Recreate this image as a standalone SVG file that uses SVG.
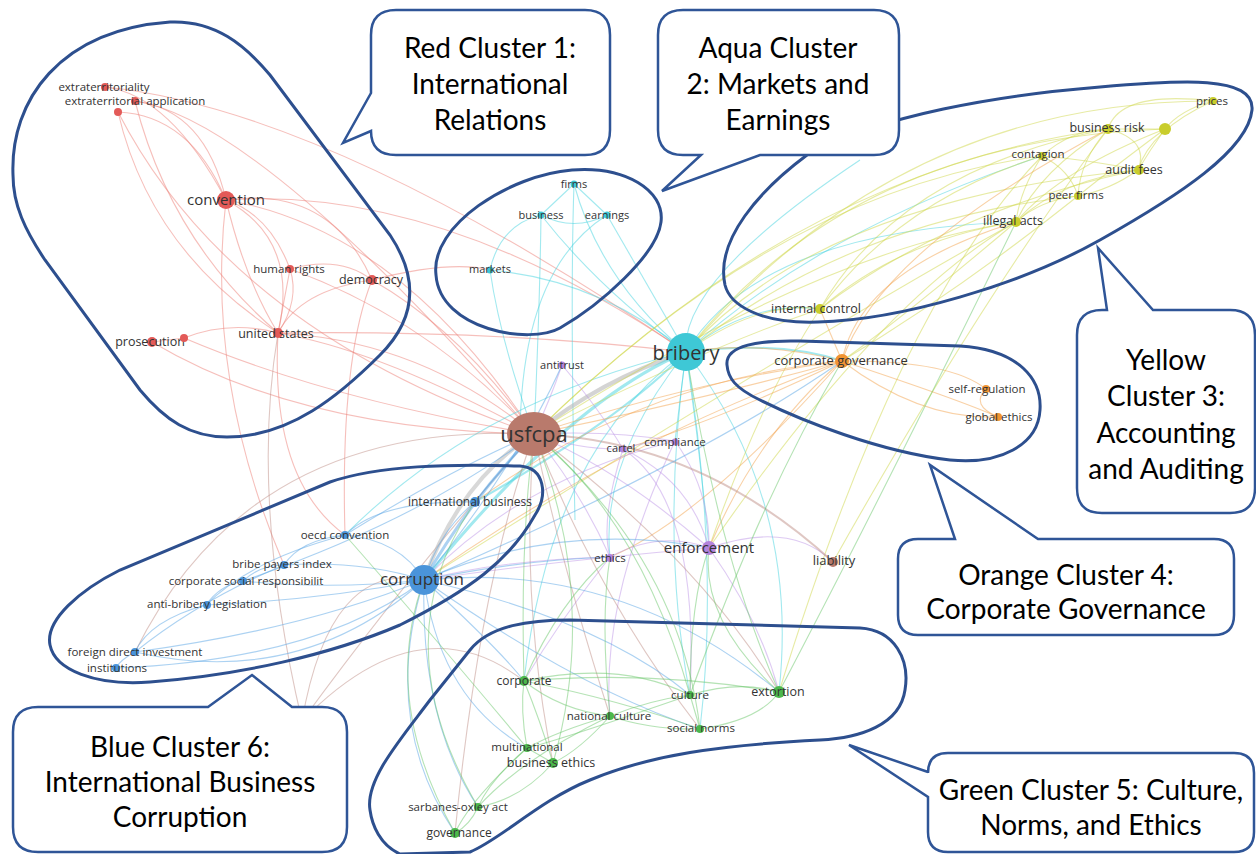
<svg xmlns="http://www.w3.org/2000/svg" width="1256" height="854" viewBox="0 0 1256 854">
<style>
.bg{fill:#ffffff}
.e{fill:none;stroke-width:1.1;stroke-opacity:.5}
.r{stroke:#ee8078}.a{stroke:#45d3df}.y{stroke:#cfd84a}.o{stroke:#f3a44e}.p{stroke:#bd95e8}.g{stroke:#6cc86c}.b{stroke:#5aa5e6}.n{stroke:#c09088}.gr{stroke:#b8b8b8}
.nr{fill:#e35a58}.na{fill:#3ec8d6}.ny{fill:#c9cd2c}.no{fill:#f19432}.np{fill:#b483dc}.nn{fill:#b97a6c}.nb{fill:#4a94da}.ng{fill:#4cb84c}
.lb{font-family:"Open Sans","DejaVu Sans",sans-serif;fill:#333;text-anchor:middle;dominant-baseline:central}
.blob{fill:none;stroke:#2d4f8e;stroke-width:3}
.call{fill:#ffffff;stroke:#2f5597;stroke-width:2.5;stroke-linejoin:miter}
.ct{font-family:Lato,"Open Sans",sans-serif;font-size:28px;fill:#000;text-anchor:middle}
</style>
<rect class="bg" x="0" y="0" width="1256" height="854"/>
<g id="connectors">
<path class="e r" d="M118,112 Q190,115 226,200"/>
<path class="e r" d="M135,101 Q205,110 226,200"/>
<path class="e r" d="M105,87 Q170,95 226,200"/>
<path class="e r" d="M118,112 Q150,250 278,333"/>
<path class="e r" d="M135,101 Q170,240 278,333"/>
<path class="e r" d="M118,112 Q230,330 534,434"/>
<path class="e r" d="M135,101 Q260,120 534,434"/>
<path class="e r" d="M105,87 Q330,110 686,352"/>
<path class="e r" d="M226,200 Q330,185 372,280"/>
<path class="e r" d="M226,200 Q270,215 290,269"/>
<path class="e r" d="M226,200 Q245,280 278,333"/>
<path class="e r" d="M226,200 Q300,240 278,333"/>
<path class="e r" d="M226,200 Q440,185 686,352"/>
<path class="e r" d="M226,200 Q400,230 534,434"/>
<path class="e r" d="M226,200 Q205,380 284,565"/>
<path class="e r" d="M290,269 Q340,255 372,280"/>
<path class="e r" d="M290,269 L278,333"/>
<path class="e r" d="M290,269 Q300,300 278,333"/>
<path class="e r" d="M290,269 Q430,320 534,434"/>
<path class="e r" d="M372,280 Q300,290 278,333"/>
<path class="e r" d="M372,280 Q460,330 534,434"/>
<path class="e r" d="M372,280 Q340,360 345,535"/>
<path class="e r" d="M372,280 Q450,260 490,270"/>
<path class="e r" d="M278,333 Q420,340 534,434"/>
<path class="e r" d="M278,333 Q380,350 534,434"/>
<path class="e r" d="M278,333 Q270,480 345,535"/>
<path class="e r" d="M278,333 Q500,330 686,352"/>
<path class="e r" d="M184,338 Q230,320 278,333"/>
<path class="e r" d="M152,342 L184,338"/>
<path class="e r" d="M152,342 Q300,430 534,434"/>
<path class="e r" d="M184,338 Q330,400 534,434"/>
<path class="e n" d="M302,721 Q250,500 278,333"/>
<path class="e a" d="M574,184 L541,215"/>
<path class="e a" d="M574,184 L607,215"/>
<path class="e a" d="M541,215 Q574,232 607,215"/>
<path class="e a" d="M541,215 Q500,225 490,270"/>
<path class="e a" d="M574,184 Q600,280 686,352"/>
<path class="e a" d="M574,184 Q570,300 575,520"/>
<path class="e a" d="M541,215 Q600,290 686,352"/>
<path class="e a" d="M607,215 Q650,290 686,352"/>
<path class="e a" d="M607,215 Q520,270 520,440"/>
<path class="e a" d="M541,215 Q540,300 534,434"/>
<path class="e a" d="M490,270 Q600,280 686,352"/>
<path class="e a" d="M490,270 Q500,340 534,434"/>
<path class="e gr" d="M686,352 Q600,380 534,434" style="stroke-width:4;stroke-opacity:.6"/>
<path class="e a" d="M686,352 Q570,400 424,580" style="stroke-width:3"/>
<path class="e a" d="M686,352 Q620,420 475,502" style="stroke-width:2"/>
<path class="e a" d="M686,352 Q750,300 820,309"/>
<path class="e a" d="M686,352 Q820,230 1042,156"/>
<path class="e a" d="M686,352 Q760,230 1016,222"/>
<path class="e a" d="M686,352 Q800,500 779,692"/>
<path class="e a" d="M686,352 Q660,540 690,695"/>
<path class="e a" d="M686,352 Q720,560 700,729"/>
<path class="e a" d="M686,352 Q700,450 709,548"/>
<path class="e a" d="M686,352 Q680,400 675,441"/>
<path class="e a" d="M686,352 Q780,340 842,361" style="stroke-width:2"/>
<path class="e a" d="M686,352 Q550,450 524,681"/>
<path class="e a" d="M686,352 Q480,400 345,535"/>
<path class="e a" d="M686,352 Q600,460 610,557"/>
<path class="e a" d="M686,352 Q680,280 860,160"/>
<path class="e y" d="M1213,101 Q1180,110 1165,129"/>
<path class="e y" d="M1213,101 Q1120,90 1108,129"/>
<path class="e y" d="M1213,101 Q1150,130 1138,170"/>
<path class="e y" d="M1108,129 L1165,129"/>
<path class="e y" d="M1108,129 Q1070,130 1042,156"/>
<path class="e y" d="M1108,129 Q1150,140 1138,170"/>
<path class="e y" d="M1108,129 Q1080,160 1078,196"/>
<path class="e y" d="M1108,129 Q1040,170 1016,222"/>
<path class="e y" d="M1165,129 Q1150,150 1138,170"/>
<path class="e y" d="M1165,129 Q1110,170 1078,196"/>
<path class="e y" d="M1165,129 Q1060,170 1016,222"/>
<path class="e y" d="M1042,156 Q1090,160 1138,170"/>
<path class="e y" d="M1042,156 Q1070,170 1078,196"/>
<path class="e y" d="M1042,156 Q1020,190 1016,222"/>
<path class="e y" d="M1138,170 Q1110,190 1078,196"/>
<path class="e y" d="M1138,170 Q1060,180 1016,222"/>
<path class="e y" d="M1078,196 Q1040,200 1016,222"/>
<path class="e y" d="M1016,222 Q900,240 820,309"/>
<path class="e y" d="M1042,156 Q900,200 820,309"/>
<path class="e y" d="M1108,129 Q900,170 820,309"/>
<path class="e y" d="M1138,170 Q950,210 820,309"/>
<path class="e y" d="M1165,129 Q850,140 686,352"/>
<path class="e y" d="M1108,129 Q800,170 534,434"/>
<path class="e y" d="M1042,156 Q780,190 534,434"/>
<path class="e y" d="M1138,170 Q820,200 686,352"/>
<path class="e y" d="M1016,222 Q820,250 534,434"/>
<path class="e y" d="M1078,196 Q850,220 686,352"/>
<path class="e y" d="M1213,101 Q900,100 686,352"/>
<path class="e y" d="M1016,222 Q900,320 842,361"/>
<path class="e y" d="M1078,196 Q960,290 842,361"/>
<path class="e y" d="M1016,222 Q880,300 709,548"/>
<path class="e y" d="M1042,156 Q900,300 779,692"/>
<path class="e y" d="M1108,129 Q980,300 833,562"/>
<path class="e y" d="M820,309 Q700,350 534,434"/>
<path class="e y" d="M820,309 Q760,400 709,548"/>
<path class="e y" d="M820,309 Q760,300 686,352"/>
<path class="e y" d="M1016,222 Q820,330 424,580"/>
<path class="e o" d="M842,361 Q950,360 986,389"/>
<path class="e o" d="M842,361 Q920,420 998,417"/>
<path class="e o" d="M842,361 Q960,400 998,417"/>
<path class="e o" d="M986,389 Q970,405 998,417"/>
<path class="e o" d="M842,361 Q700,380 534,434"/>
<path class="e o" d="M842,361 Q700,400 534,434"/>
<path class="e o" d="M842,361 L820,309"/>
<path class="e o" d="M842,361 Q860,270 1016,222"/>
<path class="e o" d="M842,361 Q880,250 1108,129"/>
<path class="e o" d="M842,361 Q620,440 424,580"/>
<path class="e o" d="M842,361 Q760,430 709,548"/>
<path class="e o" d="M842,361 Q720,420 623,449"/>
<path class="e o" d="M842,361 Q760,340 686,352"/>
<path class="e o" d="M842,361 Q700,520 610,557"/>
<path class="e o" d="M842,361 Q640,380 475,502"/>
<path class="e p" d="M562,365 Q550,400 534,434"/>
<path class="e p" d="M562,365 Q600,410 623,449"/>
<path class="e p" d="M623,449 Q650,440 675,441"/>
<path class="e p" d="M534,434 Q580,450 623,449"/>
<path class="e p" d="M534,434 Q610,430 675,441"/>
<path class="e p" d="M675,441 Q710,490 709,548"/>
<path class="e p" d="M623,449 Q690,480 709,548"/>
<path class="e p" d="M610,557 Q660,530 709,548"/>
<path class="e p" d="M610,557 Q580,490 534,434"/>
<path class="e p" d="M709,548 Q620,470 534,434"/>
<path class="e p" d="M610,557 Q560,620 524,681"/>
<path class="e p" d="M709,548 Q760,620 779,692"/>
<path class="e p" d="M675,441 Q520,480 424,580"/>
<path class="e p" d="M709,548 Q560,560 424,580"/>
<path class="e p" d="M623,449 Q600,520 610,557"/>
<path class="e p" d="M610,557 Q500,560 424,580"/>
<path class="e p" d="M709,548 Q790,520 833,562"/>
<path class="e p" d="M675,441 Q600,600 610,716"/>
<path class="e p" d="M623,449 Q700,500 690,695"/>
<path class="e n" d="M534,434 Q700,440 833,562" style="stroke-width:2"/>
<path class="e n" d="M534,434 Q420,560 302,721"/>
<path class="e n" d="M302,721 Q330,560 424,580"/>
<path class="e n" d="M534,434 Q560,560 610,716"/>
<path class="e n" d="M534,434 Q600,600 700,729"/>
<path class="e n" d="M534,434 Q520,600 553,763"/>
<path class="e n" d="M534,434 Q700,560 779,692"/>
<path class="e n" d="M534,434 Q480,580 455,833"/>
<path class="e n" d="M302,721 Q420,600 524,681"/>
<path class="e n" d="M534,434 Q250,420 135,652"/>
<path class="e gr" d="M534,434 Q460,480 424,580" style="stroke-width:4;stroke-opacity:.55"/>
<path class="e b" d="M534,434 Q470,500 424,580" style="stroke-width:3"/>
<path class="e b" d="M475,502 Q440,530 424,580"/>
<path class="e b" d="M475,502 Q500,470 534,434"/>
<path class="e b" d="M345,535 Q400,540 424,580"/>
<path class="e b" d="M284,565 Q360,560 424,580"/>
<path class="e b" d="M243,581 Q330,590 424,580"/>
<path class="e b" d="M206,605 Q320,600 424,580"/>
<path class="e b" d="M135,652 Q300,630 424,580"/>
<path class="e b" d="M116,668 Q320,660 424,580"/>
<path class="e b" d="M345,535 Q300,540 284,565"/>
<path class="e b" d="M284,565 Q260,565 243,581"/>
<path class="e b" d="M243,581 Q220,585 206,605"/>
<path class="e b" d="M206,605 Q150,620 135,652"/>
<path class="e b" d="M135,652 Q120,660 116,668"/>
<path class="e b" d="M345,535 Q250,560 206,605"/>
<path class="e b" d="M345,535 Q380,500 475,502"/>
<path class="e b" d="M284,565 Q200,600 135,652"/>
<path class="e b" d="M345,535 Q450,470 534,434"/>
<path class="e b" d="M243,581 Q420,520 534,434"/>
<path class="e b" d="M424,580 Q560,520 709,548"/>
<path class="e b" d="M424,580 Q520,560 610,557"/>
<path class="e b" d="M424,580 Q600,620 690,695"/>
<path class="e b" d="M424,580 Q500,650 524,681"/>
<path class="e b" d="M424,580 Q380,720 455,833"/>
<path class="e b" d="M424,580 Q420,720 478,807"/>
<path class="e b" d="M424,580 Q440,700 527,748"/>
<path class="e b" d="M424,580 Q580,690 700,729"/>
<path class="e b" d="M424,580 Q620,560 779,692"/>
<path class="e b" d="M424,580 Q700,460 842,361"/>
<path class="e b" d="M135,652 Q300,690 424,580"/>
<path class="e b" d="M424,580 Q520,460 562,365"/>
<path class="e g" d="M524,681 Q620,660 690,695"/>
<path class="e g" d="M524,681 Q560,710 610,716"/>
<path class="e g" d="M524,681 Q520,710 527,748"/>
<path class="e g" d="M524,681 Q540,720 553,763"/>
<path class="e g" d="M524,681 Q620,700 700,729"/>
<path class="e g" d="M524,681 Q650,670 779,692"/>
<path class="e g" d="M610,716 Q650,700 690,695"/>
<path class="e g" d="M610,716 Q650,730 700,729"/>
<path class="e g" d="M690,695 Q740,680 779,692"/>
<path class="e g" d="M690,695 L700,729"/>
<path class="e g" d="M700,729 Q760,720 779,692"/>
<path class="e g" d="M527,748 L553,763"/>
<path class="e g" d="M527,748 Q490,780 478,807"/>
<path class="e g" d="M553,763 Q520,800 478,807"/>
<path class="e g" d="M478,807 Q470,825 455,833"/>
<path class="e g" d="M527,748 Q470,800 455,833"/>
<path class="e g" d="M610,716 Q560,730 527,748"/>
<path class="e g" d="M610,716 Q580,750 553,763"/>
<path class="e g" d="M610,716 Q520,760 478,807"/>
<path class="e g" d="M690,695 Q560,740 527,748"/>
<path class="e g" d="M779,692 Q700,620 709,548"/>
<path class="e g" d="M779,692 Q720,560 686,352"/>
<path class="e g" d="M690,695 Q640,520 534,434"/>
<path class="e g" d="M700,729 Q680,560 534,434"/>
<path class="e g" d="M524,681 Q520,540 534,434"/>
<path class="e g" d="M690,695 Q690,600 709,548"/>
<path class="e g" d="M610,716 Q600,620 610,557"/>
<path class="e g" d="M524,681 Q560,600 610,557"/>
<path class="e g" d="M553,763 Q600,600 534,434"/>
<path class="e g" d="M455,833 Q380,700 424,580"/>
<path class="e g" d="M779,692 Q880,500 1016,222"/>
<path class="e g" d="M690,695 Q760,500 842,361"/>
<path class="e g" d="M527,748 Q420,620 345,535"/>
<path class="e g" d="M478,807 Q380,640 475,502"/>
</g>
<g id="cluster-outlines">
<path id="outline-red" class="blob" d="M13,175 C10,100 60,30 170,22 C215,20 245,45 270,75 L390,235 C420,280 415,320 380,355 C340,395 290,437 227,437 C190,437 165,420 140,390 L45,260 C25,230 13,205 13,175 Z"/>
<path id="outline-aqua" class="blob" d="M436,275 C430,225 510,175 572,170 C625,166 665,190 661,222 C657,255 600,305 560,328 C530,345 440,330 436,275 Z"/>
<path id="outline-yellow" class="blob" d="M725,285 C715,240 760,190 807,155 C880,115 1000,95 1100,87 C1180,80 1255,75 1252,110 C1248,150 1180,195 1100,240 C1020,285 900,320 818,322 C760,324 730,305 725,285 Z"/>
<path id="outline-orange" class="blob" d="M727,365 C725,345 760,340 800,341 L960,346 C1020,350 1042,380 1040,410 C1038,445 1000,465 950,460 C880,452 800,420 760,400 C735,388 728,378 727,365 Z"/>
<path id="outline-blue" class="blob" d="M50,645 C45,620 80,590 120,570 L330,482 C380,465 450,464 520,466 C545,468 548,495 535,515 C510,560 470,590 400,625 C330,655 240,675 150,682 C95,686 55,670 50,645 Z"/>
<path id="outline-green" class="blob" d="M370,810 C365,780 400,740 430,700 L470,650 C490,625 530,620 570,620 L860,628 C895,630 910,660 905,690 C900,725 860,738 820,740 C720,745 650,755 590,780 C540,800 500,840 470,852 L400,854 C380,845 372,825 370,810 Z"/>
</g>
<g id="nodes">
<g id="n-extraterritoriality"><circle class="nr" cx="105" cy="87" r="4"/><text class="lb" x="104" y="86" font-size="11.5">extraterritoriality</text></g>
<g id="n-extraterritorial-application"><circle class="nr" cx="135" cy="101" r="4"/><text class="lb" x="135" y="100" font-size="11.5">extraterritorial application</text></g>
<g id="n-red-dot"><circle class="nr" cx="118" cy="112" r="4"/></g>
<g id="n-convention"><circle class="nr" cx="226" cy="200" r="9"/><text class="lb" x="226" y="199" font-size="15">convention</text></g>
<g id="n-human-rights"><circle class="nr" cx="290" cy="269" r="4"/><text class="lb" x="289" y="268" font-size="11.5">human rights</text></g>
<g id="n-democracy"><circle class="nr" cx="372" cy="280" r="5"/><text class="lb" x="371" y="279" font-size="12.5">democracy</text></g>
<g id="n-united-states"><circle class="nr" cx="278" cy="333" r="5"/><text class="lb" x="276" y="333" font-size="12.5">united states</text></g>
<g id="n-prosecution"><circle class="nr" cx="152" cy="342" r="5"/><text class="lb" x="150" y="341" font-size="12.5">prosecution</text></g>
<g id="n-red-dot2"><circle class="nr" cx="184" cy="338" r="4"/></g>
<g id="n-firms"><circle class="na" cx="574" cy="184" r="3.5"/><text class="lb" x="574" y="183" font-size="11">firms</text></g>
<g id="n-business"><circle class="na" cx="541" cy="215" r="3.5"/><text class="lb" x="541" y="214" font-size="11">business</text></g>
<g id="n-earnings"><circle class="na" cx="607" cy="215" r="3.5"/><text class="lb" x="607" y="214" font-size="11">earnings</text></g>
<g id="n-markets"><circle class="na" cx="490" cy="270" r="3.5"/><text class="lb" x="490" y="268" font-size="11">markets</text></g>
<g id="n-bribery"><circle class="na" cx="686" cy="352" r="19"/><text class="lb" x="686" y="352" font-size="20">bribery</text></g>
<g id="n-prices"><circle class="ny" cx="1213" cy="101" r="4"/><text class="lb" x="1212" y="100" font-size="11.5">prices</text></g>
<g id="n-business-risk"><circle class="ny" cx="1108" cy="129" r="5"/><text class="lb" x="1107" y="127" font-size="12.5">business risk</text></g>
<g id="n-yellow-dot"><circle class="ny" cx="1165" cy="129" r="6"/></g>
<g id="n-contagion"><circle class="ny" cx="1042" cy="156" r="4"/><text class="lb" x="1038" y="153" font-size="11.5">contagion</text></g>
<g id="n-audit-fees"><circle class="ny" cx="1139" cy="170" r="5"/><text class="lb" x="1134" y="169" font-size="12.5">audit fees</text></g>
<g id="n-peer-firms"><circle class="ny" cx="1078" cy="196" r="4"/><text class="lb" x="1076" y="194" font-size="11.5">peer firms</text></g>
<g id="n-illegal-acts"><circle class="ny" cx="1016" cy="222" r="5"/><text class="lb" x="1013" y="220" font-size="12.5">illegal acts</text></g>
<g id="n-internal-control"><circle class="ny" cx="820" cy="309" r="5"/><text class="lb" x="816" y="308" font-size="12.5">internal control</text></g>
<g id="n-corporate-governance"><circle class="no" cx="842" cy="361" r="7"/><text class="lb" x="841" y="360" font-size="13">corporate governance</text></g>
<g id="n-self-regulation"><circle class="no" cx="986" cy="389" r="4"/><text class="lb" x="987" y="388" font-size="11.5">self-regulation</text></g>
<g id="n-global-ethics"><circle class="no" cx="998" cy="417" r="4"/><text class="lb" x="999" y="416" font-size="11.5">global ethics</text></g>
<g id="n-antitrust"><circle class="np" cx="562" cy="365" r="3.5"/><text class="lb" x="562" y="364" font-size="11">antitrust</text></g>
<g id="n-cartel"><circle class="np" cx="623" cy="449" r="3.5"/><text class="lb" x="621" y="447" font-size="11">cartel</text></g>
<g id="n-compliance"><circle class="np" cx="675" cy="442" r="3.5"/><text class="lb" x="675" y="441" font-size="11.5">compliance</text></g>
<g id="n-ethics"><circle class="np" cx="610" cy="558" r="4"/><text class="lb" x="610" y="557" font-size="11.5">ethics</text></g>
<g id="n-enforcement"><circle class="np" cx="709" cy="548" r="7"/><text class="lb" x="709" y="547" font-size="15">enforcement</text></g>
<g id="n-usfcpa"><ellipse class="nn" cx="534" cy="434" rx="27" ry="22"/><text class="lb" x="534" y="433" font-size="22">usfcpa</text></g>
<g id="n-liability"><circle class="nn" cx="833" cy="562" r="5"/><text class="lb" x="834" y="560" font-size="13">liability</text></g>
<g id="n-oecd"><circle class="nn" cx="302" cy="721" r="4"/><text class="lb" x="303" y="720" font-size="11.5">oecd</text></g>
<g id="n-international-business"><circle class="nb" cx="475" cy="502" r="5"/><text class="lb" x="470" y="501" font-size="12">international business</text></g>
<g id="n-oecd-convention"><circle class="nb" cx="345" cy="535" r="4"/><text class="lb" x="345" y="534" font-size="11.5">oecd convention</text></g>
<g id="n-bribe-payers-index"><circle class="nb" cx="284" cy="565" r="4"/><text class="lb" x="282" y="563" font-size="11.5">bribe payers index</text></g>
<g id="n-csr"><circle class="nb" cx="243" cy="581" r="4"/><text class="lb" x="246" y="580" font-size="11.5">corporate social responsibilit</text></g>
<g id="n-anti-bribery-legislation"><circle class="nb" cx="207" cy="605" r="4"/><text class="lb" x="207" y="603" font-size="11.5">anti-bribery legislation</text></g>
<g id="n-corruption"><circle class="nb" cx="424" cy="580" r="15"/><text class="lb" x="422" y="578" font-size="17">corruption</text></g>
<g id="n-fdi"><circle class="nb" cx="135" cy="652" r="4"/><text class="lb" x="135" y="651" font-size="11.5">foreign direct investment</text></g>
<g id="n-institutions"><circle class="nb" cx="116" cy="668" r="4"/><text class="lb" x="117" y="667" font-size="11.5">institutions</text></g>
<g id="n-corporate"><circle class="ng" cx="524" cy="681" r="5"/><text class="lb" x="524" y="680" font-size="12">corporate</text></g>
<g id="n-culture"><circle class="ng" cx="690" cy="695" r="4"/><text class="lb" x="690" y="694" font-size="11.5">culture</text></g>
<g id="n-extortion"><circle class="ng" cx="779" cy="692" r="6"/><text class="lb" x="778" y="691" font-size="12.5">extortion</text></g>
<g id="n-national-culture"><circle class="ng" cx="610" cy="716" r="4"/><text class="lb" x="609" y="715" font-size="11.5">national culture</text></g>
<g id="n-social-norms"><circle class="ng" cx="700" cy="729" r="4"/><text class="lb" x="701" y="727" font-size="11.5">social norms</text></g>
<g id="n-multinational"><circle class="ng" cx="527" cy="748" r="4"/><text class="lb" x="527" y="746" font-size="11.5">multinational</text></g>
<g id="n-business-ethics"><circle class="ng" cx="553" cy="763" r="5"/><text class="lb" x="551" y="762" font-size="12.5">business ethics</text></g>
<g id="n-sox"><circle class="ng" cx="478" cy="807" r="4"/><text class="lb" x="458" y="806" font-size="11.5">sarbanes-oxley act</text></g>
<g id="n-governance"><circle class="ng" cx="455" cy="833" r="5"/><text class="lb" x="459" y="832" font-size="12">governance</text></g>
</g>
<g id="callout-red"><path class="call" d="M396,10 H585 Q610,10 610,35 V130 Q610,155 585,155 H396 Q371,155 371,131 L343,143 L371,93 V35 Q371,10 396,10 Z"/>
<text class="ct" x="490" y="58">Red Cluster 1:</text><text class="ct" x="490" y="94">International</text><text class="ct" x="490" y="130">Relations</text></g>
<g id="callout-aqua"><path class="call" d="M683,10 H874 Q899,10 899,35 V130 Q899,155 874,155 H760 L662,191 L701,155 H683 Q658,155 658,130 V35 Q658,10 683,10 Z"/>
<text class="ct" x="778" y="58">Aqua Cluster</text><text class="ct" x="778" y="94">2: Markets and</text><text class="ct" x="778" y="130">Earnings</text></g>
<g id="callout-yellow"><path class="call" d="M1102,310 H1107 L1098,248 L1153,310 H1230 Q1255,310 1255,335 V488 Q1255,513 1230,513 H1102 Q1077,513 1077,488 V335 Q1077,310 1102,310 Z"/>
<text class="ct" x="1166" y="370">Yellow</text><text class="ct" x="1166" y="406">Cluster 3:</text><text class="ct" x="1166" y="443">Accounting</text><text class="ct" x="1166" y="479">and Auditing</text></g>
<g id="callout-orange"><path class="call" d="M918,539 H955 L930,465 L1038,539 H1214 Q1234,539 1234,559 V615 Q1234,635 1214,635 H918 Q898,635 898,615 V559 Q898,539 918,539 Z"/>
<text class="ct" x="1066" y="585">Orange Cluster 4:</text><text class="ct" x="1066" y="619">Corporate Governance</text></g>
<g id="callout-green"><path class="call" d="M948,753 H1234 Q1254,753 1254,773 V832 Q1254,852 1234,852 H948 Q928,852 928,832 V797 L849,745 L928,772 V773 Q928,753 948,753 Z"/>
<text class="ct" x="1091" y="800">Green Cluster 5: Culture,</text><text class="ct" x="1091" y="835">Norms, and Ethics</text></g>
<g id="callout-blue"><path class="call" d="M38,707 H208 L252,675 L292,707 H322 Q347,707 347,732 V827 Q347,852 322,852 H38 Q13,852 13,827 V732 Q13,707 38,707 Z"/>
<text class="ct" x="180" y="757">Blue Cluster 6:</text><text class="ct" x="180" y="792">International Business</text><text class="ct" x="180" y="827">Corruption</text></g>
</svg>
